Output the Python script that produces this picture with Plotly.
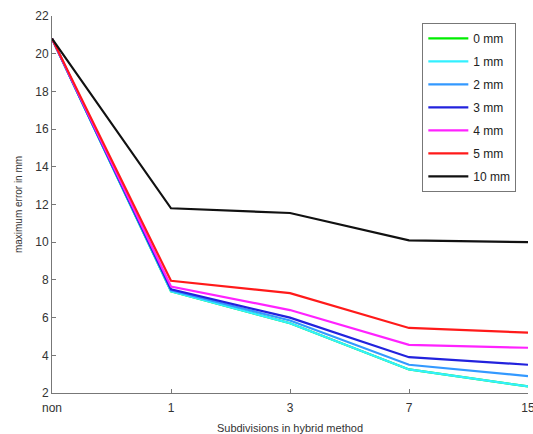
import plotly.graph_objects as go

categories = ["non", "1", "3", "7", "15"]
names = ["0 mm", "1 mm", "2 mm", "3 mm", "4 mm", "5 mm", "10 mm"]
colors = ["#00ee00", "#33f0ff", "#3399ff", "#2222dd", "#ff22ff", "#ff1a1a", "#111111"]
err_0mm = [20.8, 7.4, 5.7, 3.25, 2.35]
err_1mm = [20.8, 7.4, 5.7, 3.25, 2.35]
err_2mm = [20.8, 7.45, 5.85, 3.5, 2.9]
err_3mm = [20.8, 7.5, 6.0, 3.9, 3.5]
err_4mm = [20.8, 7.65, 6.4, 4.55, 4.4]
err_5mm = [20.8, 7.95, 7.3, 5.45, 5.2]
err_10mm = [20.8, 11.8, 11.55, 10.1, 10.0]
series = [err_0mm, err_1mm, err_2mm, err_3mm, err_4mm, err_5mm, err_10mm]

fig = go.Figure()
for i, (n, c, s) in enumerate(zip(names, colors, series)):
    fig.add_trace(go.Scatter(x=categories, y=s, mode="lines", name=n,
                             legendgroup=n,
                             line=dict(color=c, width=2.2)))

axis_font = dict(family="Liberation Sans, Arial, sans-serif", size=12, color="#333333")
fig.update_layout(
    width=533, height=434,
    margin=dict(l=52, r=5, t=16, b=41),
    plot_bgcolor="white", paper_bgcolor="white",
    showlegend=True,
    legend=dict(x=0.778, y=0.982, xanchor="left", yanchor="top",
                bordercolor="#777777", borderwidth=1, bgcolor="white",
                font=dict(family="Liberation Sans, Arial, sans-serif", size=12, color="#222222"),
                tracegroupgap=4, itemwidth=40),
    xaxis=dict(type="category", range=[0, 4], showline=True, linecolor="#777777",
               linewidth=1, ticks="inside", ticklen=4, tickcolor="#777777",
               showgrid=False, zeroline=False, tickfont=axis_font, automargin=False,
               ticklabelstandoff=4,
               title=dict(text="Subdivisions in hybrid method",
                          font=dict(family="Liberation Sans, Arial, sans-serif", size=11, color="#333333"),
                          standoff=10)),
    yaxis=dict(range=[2, 22], tickvals=list(range(2, 23, 2)), showline=True,
               linecolor="#777777", linewidth=1, ticks="inside", ticklen=4,
               tickcolor="#777777", showgrid=False, zeroline=False, tickfont=axis_font,
               automargin=False,
               title=dict(text="maximum error in mm",
                          font=dict(family="Liberation Sans, Arial, sans-serif", size=10, color="#333333"),
                          standoff=10)),
)
fig.write_html("out.html", config={"displayModeBar": False},
               post_script="document.body.style.margin='0';")
